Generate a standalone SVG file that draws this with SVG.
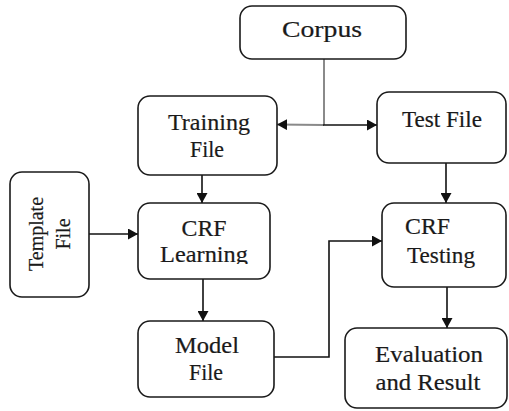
<svg xmlns="http://www.w3.org/2000/svg" width="509" height="411" viewBox="0 0 509 411">
  <style>
    .box { fill: #ffffff; stroke: #1a1a1a; stroke-width: 1.6; }
    .lbl { font-family: "Liberation Serif", "Times New Roman", serif; font-size: 23px; fill: #1a1a1a; stroke: #1a1a1a; stroke-width: 0.2; }
    .side { font-size: 20px; }
    .mid { text-anchor: middle; }
    .wire { fill: none; stroke: #111111; stroke-width: 1.6; }
    .grey { fill: none; stroke: #8a8a8a; stroke-width: 2; }
  </style>
  <defs>
    <marker id="head" markerUnits="userSpaceOnUse" markerWidth="11" markerHeight="11" refX="10" refY="5.5" orient="auto">
      <path d="M0,0 L10,5.5 L0,11 z" fill="#111111"/>
    </marker>
    <clipPath id="learnClip">
      <rect x="138" y="203" width="132" height="61"/>
    </clipPath>
  </defs>

  <rect width="509" height="411" fill="#ffffff"/>

  <!-- connectors -->
  <g id="connectors">
    <line class="grey" x1="324" y1="59" x2="324" y2="125"/>
    <line class="grey" x1="324" y1="125" x2="277" y2="124.5" marker-end="url(#head)"/>
    <line class="wire" x1="323" y1="125" x2="377" y2="125" marker-end="url(#head)"/>
    <line class="wire" x1="202" y1="175" x2="202" y2="203" marker-end="url(#head)"/>
    <line class="wire" x1="89" y1="234" x2="138" y2="234" marker-end="url(#head)"/>
    <line class="wire" x1="203" y1="279" x2="203" y2="321" marker-end="url(#head)"/>
    <polyline class="wire" points="274,357 329,357 329,241 382,241" marker-end="url(#head)"/>
    <line class="wire" x1="446" y1="163" x2="446" y2="203" marker-end="url(#head)"/>
    <line class="wire" x1="447" y1="287" x2="447" y2="328" marker-end="url(#head)"/>
  </g>

  <g id="corpus">
    <rect class="box" x="240" y="6" width="166" height="53" rx="12"/>
    <text class="lbl mid" x="322" y="37" textLength="80" lengthAdjust="spacingAndGlyphs">Corpus</text>
  </g>

  <g id="training-file">
    <rect class="box" x="138" y="96" width="139" height="79" rx="12"/>
    <text class="lbl mid" x="209" y="130" textLength="82" lengthAdjust="spacingAndGlyphs">Training</text>
    <text class="lbl mid" x="207" y="157" textLength="34" lengthAdjust="spacingAndGlyphs">File</text>
  </g>

  <g id="test-file">
    <rect class="box" x="377" y="92" width="129" height="71" rx="12"/>
    <text class="lbl mid" x="442" y="127" textLength="80" lengthAdjust="spacingAndGlyphs">Test File</text>
  </g>

  <g id="template-file">
    <rect class="box" x="10" y="172" width="79" height="125" rx="12"/>
    <text class="lbl side mid" transform="translate(43,234) rotate(-90)">Template</text>
    <text class="lbl side mid" transform="translate(70,234) rotate(-90)">File</text>
  </g>

  <g id="crf-learning">
    <rect class="box" x="138" y="203" width="132" height="76" rx="12"/>
    <text class="lbl mid" x="204" y="236" textLength="45" lengthAdjust="spacingAndGlyphs">CRF</text>
    <text class="lbl mid" x="204" y="262" textLength="88" lengthAdjust="spacingAndGlyphs" clip-path="url(#learnClip)">Learning</text>
  </g>

  <g id="model-file">
    <rect class="box" x="138" y="321" width="136" height="76" rx="12"/>
    <text class="lbl mid" x="207" y="353" textLength="64" lengthAdjust="spacingAndGlyphs">Model</text>
    <text class="lbl mid" x="206" y="380" textLength="34" lengthAdjust="spacingAndGlyphs">File</text>
  </g>

  <g id="crf-testing">
    <rect class="box" x="382" y="203" width="124" height="84" rx="12"/>
    <text class="lbl" x="405" y="234" textLength="45" lengthAdjust="spacingAndGlyphs">CRF</text>
    <text class="lbl" x="407" y="263" textLength="68" lengthAdjust="spacingAndGlyphs">Testing</text>
  </g>

  <g id="evaluation">
    <rect class="box" x="345" y="328" width="162" height="80" rx="12"/>
    <text class="lbl mid" x="429" y="362" textLength="108" lengthAdjust="spacingAndGlyphs">Evaluation</text>
    <text class="lbl mid" x="428" y="390" textLength="105" lengthAdjust="spacingAndGlyphs">and Result</text>
  </g>
</svg>
